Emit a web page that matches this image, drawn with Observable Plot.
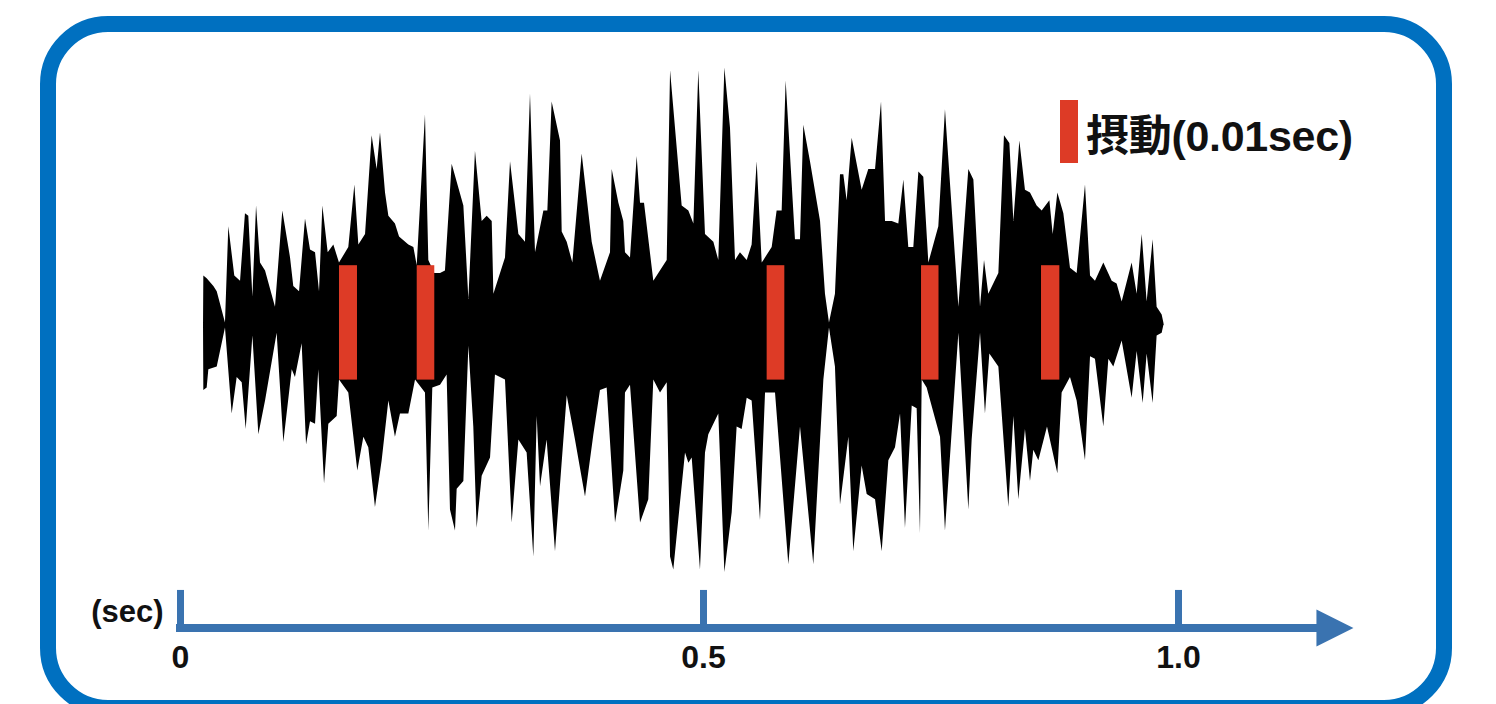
<!DOCTYPE html>
<html><head><meta charset="utf-8">
<script src="https://cdn.jsdelivr.net/npm/d3@7"></script>
<script src="https://cdn.jsdelivr.net/npm/@observablehq/plot@0.6"></script>
<style>
html,body{margin:0;padding:0;background:#fff;overflow:hidden;}
#stage{position:relative;width:1496px;height:704px;overflow:hidden;background:#fff;}
#chart{position:absolute;left:0;top:0;}
#frame{position:absolute;left:40px;top:16px;width:1412px;height:700px;box-sizing:border-box;border:16px solid #0070C0;border-radius:68px;}
#legend{position:absolute;left:1060px;top:100px;display:flex;align-items:center;height:63px;}
#legend .sw{width:18px;height:63px;background:#DD3B26;margin-right:8px;}
#legend .lb{font-family:"Liberation Sans","Noto Sans CJK JP",sans-serif;font-weight:bold;font-size:43px;color:#111;white-space:nowrap;letter-spacing:-0.3px;}
</style></head>
<body>
<div id="stage">
  <div id="chart"></div>
  <div id="frame"></div>
  <div id="legend"><div class="sw"></div><div class="lb" id="legendText"></div></div>
</div>
<script>
// ---- data (time in seconds, amplitude normalised) ----
const upperEnvelope = [
[0.0220,0],[0.0223,0.19],[0.0255,0.18],[0.0319,0.15],[0.0351,0.13],[0.0430,0.01],[0.0462,0.38],[0.0519,0.19],[0.0574,0.17],[0.0621,0.43],[0.0653,0.42],[0.0692,0.11],[0.0727,0.46],[0.0765,0.24],[0.0813,0.21],[0.0908,0.07],[0.0978,0.44],[0.1052,0.26],[0.1083,0.15],[0.1138,0.13],[0.1195,0.41],[0.1243,0.29],[0.1291,0.28],[0.1329,0.13],[0.1361,0.46],[0.1412,0.28],[0.1466,0.31],[0.1520,0.24],[0.1609,0.30],[0.1667,0.54],[0.1705,0.31],[0.1769,0.35],[0.1832,0.73],[0.1880,0.60],[0.1912,0.74],[0.1960,0.51],[0.1992,0.42],[0.2055,0.39],[0.2094,0.34],[0.2183,0.31],[0.2231,0.30],[0.2263,0.23],[0.2342,0.81],[0.2374,0.25],[0.2431,0.20],
[0.2486,0.20],[0.2533,0.21],[0.2597,0.62],[0.2709,0.46],[0.2757,0.10],[0.2820,0.67],[0.2884,0.40],[0.2932,0.42],[0.2980,0.40],[0.2996,0.12],[0.3107,0.26],[0.3155,0.63],[0.3235,0.35],[0.3298,0.32],[0.3346,0.89],[0.3394,0.28],[0.3474,0.44],[0.3512,0.44],[0.3553,0.86],[0.3633,0.71],[0.3649,0.36],[0.3697,0.32],[0.3751,0.24],[0.3840,0.66],[0.3936,0.32],[0.4015,0.17],[0.4111,0.28],[0.4127,0.60],[0.4191,0.47],[0.4238,0.40],[0.4254,0.28],[0.4302,0.26],[0.4366,0.65],[0.4398,0.47],[0.4436,0.47],[0.4525,0.17],[0.4653,0.25],[0.4685,0.98],[0.4796,0.46],
[0.4860,0.44],[0.4908,0.39],[0.4955,0.98],[0.5021,0.35],[0.5109,0.32],[0.5161,0.25],[0.5225,0.99],[0.5284,0.76],[0.5337,0.25],[0.5389,0.28],[0.5460,0.25],[0.5512,0.31],[0.5565,0.63],[0.5618,0.24],[0.5723,0.30],[0.5775,0.44],[0.5828,0.44],[0.5870,0.94],[0.5968,0.33],[0.6021,0.33],[0.6056,0.77],[0.6126,0.63],[0.6232,0.40],[0.6284,0.12],[0.6326,0.01],[0.6389,0.12],[0.6442,0.58],[0.6477,0.58],[0.6512,0.48],[0.6565,0.72],[0.6670,0.52],[0.6740,0.60],[0.6811,0.60],[0.6874,0.86],[0.6916,0.40],[0.6986,0.40],[0.7056,0.39],[0.7109,0.56],[0.7161,0.30],[0.7214,0.30],[0.7267,0.59],[0.7319,0.57],[0.7372,0.24],
[0.7477,0.38],[0.7547,0.83],[0.7688,0.07],[0.7793,0.60],[0.7846,0.56],[0.7916,0.07],[0.7958,0.25],[0.8003,0.12],[0.8109,0.20],[0.8168,0.73],[0.8225,0.70],[0.8267,0.40],[0.8330,0.71],[0.8389,0.52],[0.8442,0.51],[0.8512,0.46],[0.8565,0.44],[0.8646,0.48],[0.8681,0.35],[0.8730,0.51],[0.8793,0.43],[0.8863,0.22],[0.8933,0.20],[0.9021,0.54],[0.9074,0.19],[0.9126,0.17],[0.9214,0.24],[0.9302,0.17],[0.9354,0.16],[0.9407,0.09],[0.9512,0.24],[0.9565,0.12],[0.9618,0.35],[0.9670,0.09],[0.9733,0.33],[0.9775,0.07],[0.9828,0.04],[0.9846,0.01],[0.9850,0]
];
const lowerEnvelope = [
[0.0220,0],[0.0223,-0.25],[0.0255,-0.24],[0.0271,-0.17],[0.0351,-0.16],[0.0430,-0.01],[0.0494,-0.34],[0.0542,-0.20],[0.0590,-0.22],[0.0628,-0.40],[0.0692,-0.04],[0.0749,-0.42],[0.0813,-0.29],[0.0924,-0.03],[0.0988,-0.45],[0.1068,-0.17],[0.1099,-0.20],[0.1163,-0.07],[0.1205,-0.46],[0.1243,-0.37],[0.1291,-0.38],[0.1322,-0.17],[0.1377,-0.61],[0.1418,-0.38],[0.1498,-0.35],[0.1520,-0.21],[0.1609,-0.26],[0.1695,-0.56],[0.1753,-0.43],[0.1800,-0.47],[0.1864,-0.70],[0.1928,-0.52],[0.1992,-0.29],[0.2055,-0.43],[0.2103,-0.34],[0.2183,-0.34],[0.2247,-0.21],[0.2342,-0.26],[0.2374,-0.79],[0.2412,-0.24],
[0.2486,-0.23],[0.2549,-0.19],[0.2581,-0.71],[0.2629,-0.79],[0.2645,-0.63],[0.2709,-0.60],[0.2757,-0.08],[0.2804,-0.39],[0.2836,-0.78],[0.2884,-0.58],[0.2964,-0.51],[0.3011,-0.19],[0.3107,-0.21],[0.3171,-0.76],[0.3235,-0.44],[0.3314,-0.49],[0.3378,-0.89],[0.3410,-0.35],[0.3442,-0.62],[0.3505,-0.44],[0.3585,-0.87],[0.3697,-0.27],[0.3776,-0.44],[0.3872,-0.66],[0.3952,-0.42],[0.4015,-0.25],[0.4079,-0.24],[0.4159,-0.76],[0.4238,-0.56],[0.4254,-0.26],[0.4302,-0.23],[0.4398,-0.76],[0.4477,-0.67],[0.4525,-0.21],[0.4589,-0.26],[0.4653,-0.22],[0.4685,-0.89],[0.4716,-0.94],[0.4828,-0.49],
[0.4860,-0.53],[0.4892,-0.51],[0.4971,-0.94],[0.5021,-0.49],[0.5056,-0.42],[0.5161,-0.34],[0.5225,-0.95],[0.5302,-0.72],[0.5354,-0.39],[0.5407,-0.40],[0.5460,-0.28],[0.5512,-0.29],[0.5600,-0.75],[0.5653,-0.26],[0.5758,-0.26],[0.5811,-0.51],[0.5898,-0.92],[0.6021,-0.39],[0.6161,-0.92],[0.6267,-0.21],[0.6326,-0.01],[0.6389,-0.16],[0.6442,-0.69],[0.6530,-0.43],[0.6582,-0.87],[0.6670,-0.54],[0.6723,-0.65],[0.6811,-0.67],[0.6881,-0.87],[0.6951,-0.52],[0.7021,-0.47],[0.7074,-0.34],[0.7126,-0.78],[0.7197,-0.31],[0.7249,-0.32],[0.7284,-0.80],[0.7302,-0.21],[0.7354,-0.24],
[0.7495,-0.43],[0.7547,-0.79],[0.7688,-0.03],[0.7793,-0.71],[0.7828,-0.44],[0.7916,-0.03],[0.7968,-0.34],[0.8014,-0.11],[0.8109,-0.16],[0.8214,-0.70],[0.8267,-0.35],[0.8319,-0.67],[0.8389,-0.40],[0.8442,-0.60],[0.8477,-0.48],[0.8530,-0.52],[0.8621,-0.39],[0.8730,-0.57],[0.8775,-0.26],[0.8863,-0.20],[0.8933,-0.29],[0.9021,-0.52],[0.9074,-0.12],[0.9126,-0.13],[0.9214,-0.39],[0.9267,-0.13],[0.9319,-0.16],[0.9407,-0.06],[0.9512,-0.28],[0.9565,-0.10],[0.9628,-0.30],[0.9670,-0.11],[0.9733,-0.30],[0.9775,-0.04],[0.9828,-0.03],[0.9846,0],[0.9850,0]
];
const perturbStart = [0.1520, 0.2263, 0.5670, 0.7295, 0.8558];
const perturbEnd   = [0.1692, 0.2431, 0.5856, 0.7479, 0.8751];
const perturbLow = -0.21, perturbHigh = 0.23;
const xTicks = [0, 0.5, 1.0];
const xTickLabels = ["0", "0.5", "1.0"];
const unitLabel = "(sec)";
const legendLabel = "摂動(0.01sec)";

// ---- build ----
const upperData = upperEnvelope.map(([t, a]) => ({t, a}));
const lowerData = lowerEnvelope.map(([t, a]) => ({t, a}));
const perturbData = perturbStart.map((s, i) => ({start: s, end: perturbEnd[i]}));
const axisColor = "#3a73b0";
const axisLevel = -1.163;   // amplitude level where the time axis is drawn
const tickLen = 0.144;
const arrowBase = 1.1453, arrowCenter = 1.1647;
const font = "Liberation Sans, Arial, Helvetica, sans-serif";

const arrowSymbol = {
  draw(context, size) {
    const r = Math.sqrt(size / Math.PI);
    context.moveTo(r, 0);
    context.lineTo(-r, -r);
    context.lineTo(-r, r);
    context.closePath();
  }
};

const chart = Plot.plot({
  width: 1496, height: 704, margin: 0,
  style: {background: "transparent", overflow: "visible"},
  x: {type: "linear", domain: [0, 0.5, 1], range: [180, 703, 1178], axis: null},
  y: {domain: [-1, 1], range: [585, 65], axis: null},
  marks: [
    Plot.areaY(upperData, {x: "t", y1: () => 0, y2: "a", fill: "black"}),
    Plot.areaY(lowerData, {x: "t", y1: () => 0, y2: "a", fill: "black"}),
    Plot.rect(perturbData, {x1: "start", x2: "end", y1: () => perturbLow, y2: () => perturbHigh, fill: "#DD3B26"}),
    Plot.ruleY([axisLevel], {x1: () => 0, x2: () => arrowBase + 0.005, stroke: axisColor, strokeWidth: 8, strokeLinecap: "square"}),
    Plot.ruleX(xTicks, {x: d => d, y1: () => axisLevel, y2: () => axisLevel + tickLen, stroke: axisColor, strokeWidth: 7}),
    Plot.dot([arrowCenter], {x: d => d, y: () => axisLevel, symbol: arrowSymbol, r: 18.5, fill: axisColor, stroke: "none"}),
    Plot.text(xTickLabels, {x: (d, i) => xTicks[i], y: () => axisLevel, dy: 30, text: d => d, fontSize: 32, fontWeight: "bold", fontFamily: font, fill: "#111"}),
    Plot.text([unitLabel], {x: () => 0, y: () => axisLevel, dx: -17, dy: -16, text: d => d, textAnchor: "end", fontSize: 31, fontWeight: "bold", fontFamily: font, fill: "#111"})
  ]
});
document.getElementById("chart").appendChild(chart);
document.getElementById("legendText").textContent = legendLabel;
</script>
</body></html>
